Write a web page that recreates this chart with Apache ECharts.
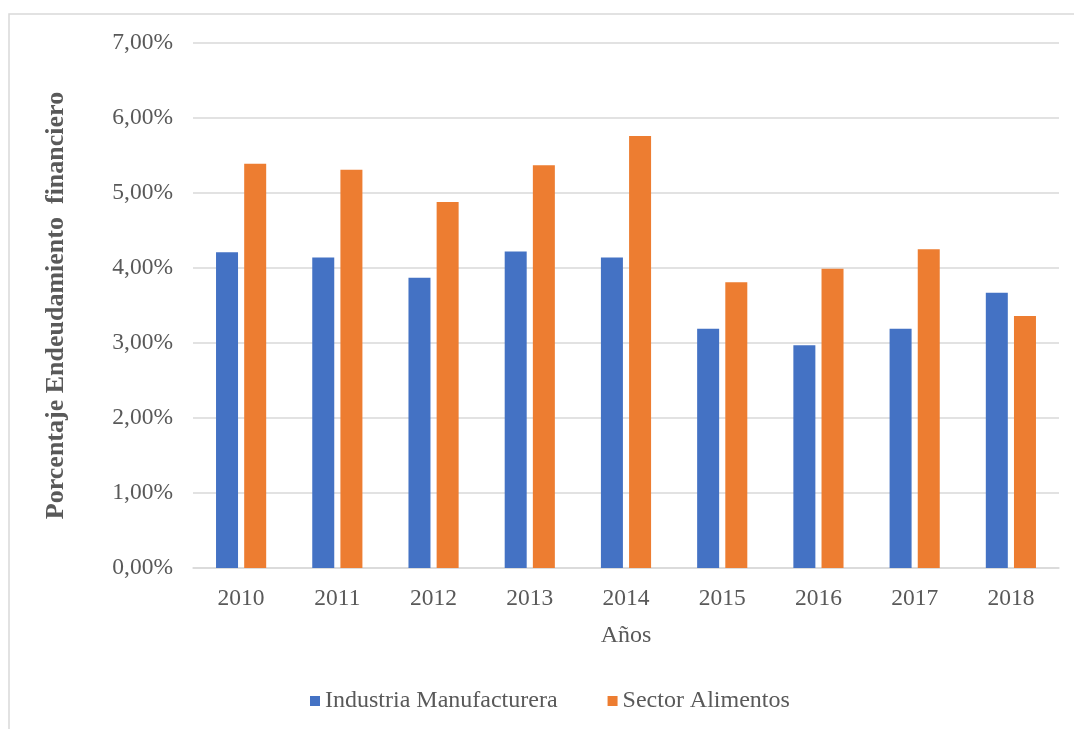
<!DOCTYPE html>
<html>
<head>
<meta charset="utf-8">
<script src="https://cdn.jsdelivr.net/npm/echarts@6/dist/echarts.min.js"></script>
<style>
  html, body { margin: 0; padding: 0; background: #ffffff; }
  #chart { width: 1074px; height: 729px; }
</style>
</head>
<body>
<div id="chart"></div>
<script>
// Años y porcentajes de endeudamiento financiero (%)
const years = ['2010', '2011', '2012', '2013', '2014', '2015', '2016', '2017', '2018'];
const industriaManufacturera = [4.21, 4.14, 3.87, 4.22, 4.14, 3.19, 2.97, 3.19, 3.67];
const sectorAlimentos = [5.39, 5.31, 4.88, 5.37, 5.76, 3.81, 3.99, 4.25, 3.36];
const seriesNames = ['Industria Manufacturera', 'Sector Alimentos'];

const serif = '"Liberation Serif", "DejaVu Serif", serif';
const textGray = '#595959';
const gridGray = '#d9d9d9';

const chart = echarts.init(document.getElementById('chart'));

chart.setOption({
  animation: false,
  backgroundColor: '#ffffff',
  graphic: [{
    type: 'rect',
    shape: { x: 9, y: 14, width: 1100, height: 760 },
    style: { fill: 'none', stroke: '#d9d9d9', lineWidth: 1.5 },
    silent: true
  }],
  grid: { left: 193, right: 15, top: 43, bottom: 161, containLabel: false },
  legend: {
    data: seriesNames,
    bottom: 11,
    left: 305,
    icon: 'rect',
    itemWidth: 10,
    itemHeight: 10,
    itemGap: 50,
    textStyle: { fontFamily: serif, fontSize: 24, color: textGray }
  },
  xAxis: {
    type: 'category',
    data: years,
    name: 'Años',
    nameLocation: 'middle',
    nameGap: 56,
    nameTextStyle: { fontFamily: serif, fontSize: 24, color: textGray },
    axisLine: { lineStyle: { color: gridGray, width: 1.5 } },
    axisTick: { show: false },
    axisLabel: { fontFamily: serif, fontSize: 23.5, color: textGray, margin: 19 }
  },
  yAxis: {
    type: 'value',
    min: 0,
    max: 7,
    interval: 1,
    name: 'Porcentaje Endeudamiento  financiero',
    nameLocation: 'middle',
    nameGap: 124,
    nameRotate: 90,
    nameTextStyle: { fontFamily: serif, fontSize: 26, fontWeight: 'bold', color: textGray },
    axisLine: { show: false },
    axisTick: { show: false },
    axisLabel: {
      fontFamily: serif,
      fontSize: 23.5,
      color: textGray,
      margin: 20,
      formatter: v => v.toFixed(2).replace('.', ',') + '%'
    },
    splitLine: { lineStyle: { color: gridGray, width: 1.5 } }
  },
  series: [
    {
      name: seriesNames[0],
      type: 'bar',
      data: industriaManufacturera,
      barWidth: 22,
      barGap: '28%',
      itemStyle: { color: '#4472c4' }
    },
    {
      name: seriesNames[1],
      type: 'bar',
      data: sectorAlimentos,
      barWidth: 22,
      itemStyle: { color: '#ed7d31' }
    }
  ]
});
</script>
</body>
</html>
